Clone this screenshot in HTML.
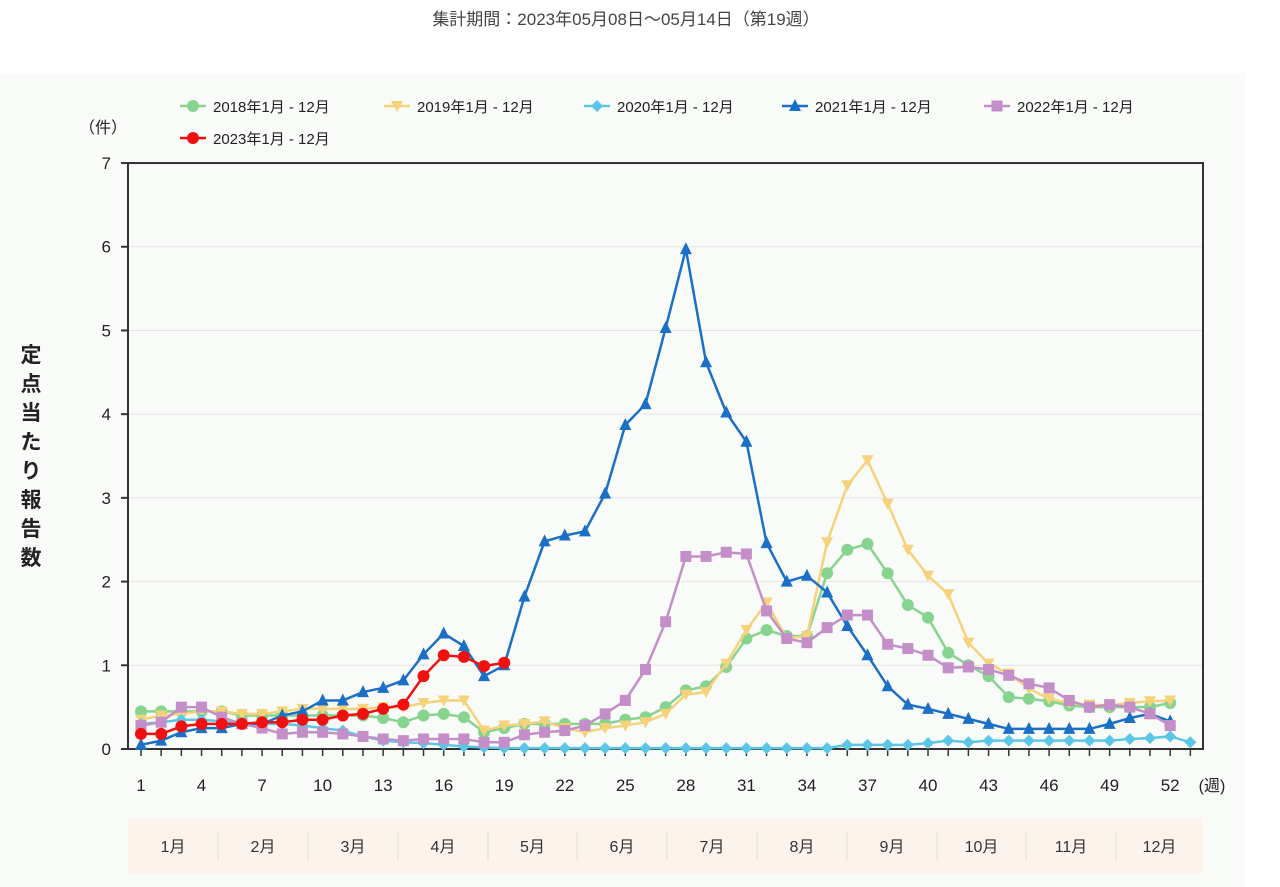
<!DOCTYPE html>
<html><head><meta charset="utf-8"><style>
body{margin:0;background:#fff;width:1280px;height:887px;overflow:hidden;font-family:"Liberation Sans","Noto Sans CJK JP",sans-serif}
</style></head><body>
<svg id="s" width="1280" height="887" xmlns="http://www.w3.org/2000/svg" style="position:absolute;left:0;top:0;font-family:'Liberation Sans','Noto Sans CJK JP',sans-serif"></svg>
<script>
const s=document.getElementById('s');let h='';
const X=w=>141+(w-1)*20.18, Y=v=>749-v*83.71;
h+='<rect x="0" y="73" width="1245" height="814" fill="#f9fbf8"/>';
h+='<text x="626" y="25" font-size="17" fill="#444" text-anchor="middle">集計期間：2023年05月08日～05月14日（第19週）</text>';
h+='<rect x="128" y="818" width="1075" height="55" fill="#fcf3ec"/>';
const months=['1月','2月','3月','4月','5月','6月','7月','8月','9月','10月','11月','12月'];
const mb=[128,218,308,398,488,577,667,757,847,937,1026,1116,1203];
for(let i=0;i<12;i++){h+=`<text x="${(mb[i]+mb[i+1])/2}" y="852" font-size="16" fill="#333" text-anchor="middle">${months[i]}</text>`;if(i>0)h+=`<line x1="${mb[i]}" y1="832" x2="${mb[i]}" y2="860" stroke="#ddd"/>`;}
for(let v=1;v<=6;v++)h+=`<line x1="128" x2="1203" y1="${Y(v)}" y2="${Y(v)}" stroke="#e4e4e4"/>`;
h+=`<rect x="128" y="${Y(7)}" width="1075" height="${749-Y(7)}" fill="none" stroke="#333" stroke-width="2"/>`;
for(let v=0;v<=7;v++){h+=`<line x1="121" x2="128" y1="${Y(v)}" y2="${Y(v)}" stroke="#333" stroke-width="2"/><text x="111" y="${Y(v)+6}" font-size="17" fill="#222" text-anchor="end">${v}</text>`;}
for(let w=1;w<=53;w++){h+=`<line x1="${X(w)}" x2="${X(w)}" y1="749" y2="756" stroke="#333" stroke-width="1.5"/>`;if((w-1)%3==0)h+=`<text x="${X(w)}" y="791" font-size="17" fill="#222" text-anchor="middle">${w}</text>`;}
h+='<text x="1212" y="791" font-size="16" fill="#222" text-anchor="middle">(週)</text>';
h+='<text x="103" y="133" font-size="16" fill="#222" text-anchor="middle">（件）</text>';
const yl='定点当たり報告数';for(let i=0;i<yl.length;i++)h+=`<text x="31" y="${362+i*29}" font-size="21" font-weight="bold" fill="#222" text-anchor="middle">${yl[i]}</text>`;
const D={
g:[.45,.45,.45,.45,.45,.4,.4,.4,.4,.4,.4,.4,.37,.32,.4,.42,.38,.2,.25,.3,.3,.3,.3,.3,.35,.38,.5,.7,.75,.98,1.32,1.42,1.35,1.35,2.1,2.38,2.45,2.1,1.72,1.57,1.15,1,.87,.62,.6,.57,.52,.5,.5,.5,.5,.55],
y:[.35,.4,.42,.45,.45,.42,.42,.45,.48,.48,.48,.48,.5,.5,.55,.58,.58,.22,.28,.3,.33,.25,.2,.25,.28,.32,.42,.65,.68,1.02,1.42,1.75,1.32,1.35,2.47,3.15,3.45,2.93,2.38,2.07,1.85,1.27,1.02,.9,.72,.6,.55,.53,.52,.55,.57,.58],
c:[.3,.32,.35,.35,.33,.3,.3,.3,.28,.25,.22,.15,.1,.08,.07,.05,.03,.02,.01,.01,.01,.01,.01,.01,.01,.01,.01,.01,.01,.01,.01,.01,.01,.01,.01,.05,.05,.05,.05,.07,.1,.08,.1,.1,.1,.1,.1,.1,.1,.12,.13,.15,.08],
b:[.05,.1,.2,.25,.25,.3,.3,.4,.45,.58,.58,.68,.73,.82,1.13,1.38,1.23,.87,1,1.82,2.48,2.55,2.6,3.05,3.87,4.12,5.03,5.97,4.62,4.02,3.67,2.46,2,2.07,1.87,1.47,1.12,.75,.53,.48,.42,.36,.3,.24,.24,.24,.24,.24,.3,.37,.42,.33],
p:[.28,.32,.5,.5,.38,.3,.25,.18,.2,.2,.18,.15,.12,.1,.12,.12,.12,.08,.08,.17,.2,.22,.28,.42,.58,.95,1.52,2.3,2.3,2.35,2.33,1.65,1.32,1.27,1.45,1.6,1.6,1.25,1.2,1.12,.97,.98,.95,.88,.78,.73,.58,.5,.53,.5,.42,.28],
r:[.18,.18,.27,.3,.3,.3,.32,.32,.35,.35,.4,.42,.48,.53,.87,1.12,1.1,.99,1.03]};
const C={g:'#86d48f',y:'#f6d27a',c:'#5cc6e6',b:'#1b6fc6',p:'#c48fc8',r:'#f01010'};
function mk(k,x,y){const c=C[k];
 if(k=='g'||k=='r')return `<circle cx="${x}" cy="${y}" r="6" fill="${c}"/>`;
 if(k=='y')return `<polygon points="${x-6},${y-5} ${x+6},${y-5} ${x},${y+6}" fill="${c}"/>`;
 if(k=='c')return `<polygon points="${x},${y-6} ${x+6},${y} ${x},${y+6} ${x-6},${y}" fill="${c}"/>`;
 if(k=='b')return `<polygon points="${x},${y-7} ${x+6},${y+5} ${x-6},${y+5}" fill="${c}"/>`;
 return `<rect x="${x-5.5}" y="${y-5.5}" width="11" height="11" fill="${c}"/>`;}
for(const k of ['g','y','c','b','p','r']){const d=D[k];
 h+=`<polyline fill="none" stroke="${C[k]}" stroke-width="2.5" points="${d.map((v,i)=>X(i+1)+','+Y(v)).join(' ')}"/>`;
 d.forEach((v,i)=>h+=mk(k,X(i+1),Y(v)));}
const L=[['g','2018',193,106],['y','2019',397,106],['c','2020',597,106],['b','2021',795,106],['p','2022',997,106],['r','2023',193,138]];
for(const [k,yr,x,y] of L){h+=`<line x1="${x-13}" x2="${x+13}" y1="${y}" y2="${y}" stroke="${C[k]}" stroke-width="2.5"/>`+mk(k,x,y)+`<text x="${x+20}" y="${y+6}" font-size="15" fill="#222">${yr}年1月 - 12月</text>`;}
s.innerHTML=h;
</script></body></html>
